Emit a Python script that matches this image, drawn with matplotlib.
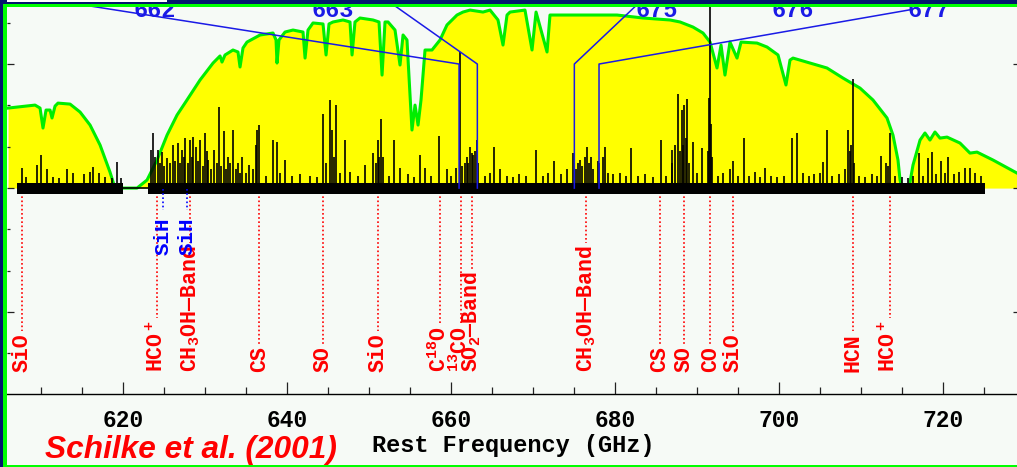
import matplotlib
matplotlib.use('Agg')
import matplotlib.pyplot as plt
from matplotlib.patches import Rectangle
from matplotlib.ticker import MultipleLocator
import numpy as np

plt.rcParams['font.family'] = ['Liberation Mono', 'DejaVu Sans Mono']
plt.rcParams['mathtext.fontset'] = 'custom'
plt.rcParams['mathtext.rm'] = 'Liberation Mono'

# atmospheric transmission, already scaled to the plot's intensity units
atm = [
    (605.98, 0.645), (609.27, 0.669), (609.88, 0.645), (610.24, 0.484), (610.61, 0.629),
    (611.10, 0.629), (611.34, 0.565), (611.71, 0.661), (612.07, 0.685), (613.54, 0.677),
    (614.76, 0.613), (615.98, 0.508), (617.20, 0.347), (618.41, 0.129), (619.02, 0.0),
    (621.71, 0.0), (622.93, 0.065), (624.15, 0.226), (625.37, 0.427), (626.59, 0.589),
    (627.80, 0.710), (629.39, 0.871), (630.98, 1.008), (631.83, 1.065), (632.07, 1.016),
    (632.44, 1.073), (633.41, 1.113), (634.02, 1.097), (634.27, 0.976), (634.63, 1.129),
    (635.12, 1.177), (636.71, 1.234), (638.29, 1.250), (638.66, 1.194), (638.78, 1.008),
    (639.02, 1.194), (639.76, 1.258), (640.73, 1.274), (641.95, 1.258), (642.20, 1.048),
    (642.56, 1.274), (643.17, 1.331), (644.39, 1.323), (644.76, 1.073), (645.12, 1.323),
    (645.61, 1.339), (646.83, 1.355), (647.68, 1.339), (647.93, 1.073), (648.29, 1.339),
    (648.90, 1.371), (650.49, 1.355), (651.22, 1.339), (651.59, 0.911), (651.95, 1.339),
    (652.32, 1.339), (653.17, 1.274), (653.78, 0.992), (654.15, 1.234), (654.63, 1.194),
    (655.00, 0.750), (655.24, 0.468), (655.61, 0.669), (655.98, 0.508), (656.34, 0.710),
    (656.83, 1.113), (657.68, 1.113), (658.66, 1.194), (659.51, 1.315), (660.73, 1.395),
    (661.46, 1.419), (662.32, 1.435), (663.90, 1.419), (664.76, 1.435), (665.73, 1.355),
    (666.34, 1.153), (666.83, 1.395), (667.20, 1.419), (669.02, 1.435), (669.88, 1.113),
    (670.37, 1.419), (671.71, 1.097), (672.07, 1.395), (672.93, 1.395), (678.17, 1.395),
    (680.24, 1.395), (683.41, 1.371), (686.71, 1.355), (687.93, 1.339), (689.51, 1.298),
    (690.73, 1.250), (691.59, 1.177), (692.44, 0.968), (692.93, 1.153), (693.41, 0.911),
    (694.02, 1.177), (694.88, 1.048), (695.37, 1.177), (697.32, 1.169), (698.54, 1.137),
    (699.88, 1.073), (700.85, 0.831), (701.34, 1.032), (701.71, 1.048), (703.78, 1.008),
    (705.85, 0.968), (707.80, 0.887), (709.88, 0.806), (711.46, 0.710), (713.17, 0.565),
    (713.90, 0.427), (714.51, 0.226), (714.76, 0.065), (715.00, 0.0), (715.85, 0.0),
    (716.34, 0.185), (717.20, 0.387), (717.80, 0.444), (718.41, 0.387), (719.02, 0.452),
    (719.63, 0.403), (720.49, 0.411), (722.07, 0.363), (723.29, 0.282), (724.15, 0.290),
    (726.10, 0.226), (729.02, 0.121),
]
atm_freq, atm_level = zip(*atm)

# observed spectral lines: frequency (GHz), peak intensity
lines = [
    (607.65, 0.16), (608.13, 0.09), (609.55, 0.19), (609.96, 0.27), (610.70, 0.15), (611.50, 0.09),
    (612.20, 0.08), (613.13, 0.15), (613.94, 0.12), (615.24, 0.11), (615.98, 0.13), (616.38, 0.17),
    (617.11, 0.12), (617.80, 0.09), (618.66, 0.08), (619.30, 0.21), (619.76, 0.08),
    (623.38, 0.31), (623.66, 0.44), (623.90, 0.25), (624.23, 0.31), (624.50, 0.20), (624.72, 0.29),
    (625.00, 0.18), (625.33, 0.24), (625.70, 0.20), (626.06, 0.35), (626.30, 0.22), (626.67, 0.36),
    (626.90, 0.20), (627.16, 0.31), (627.40, 0.25), (627.56, 0.40), (627.90, 0.20), (628.17, 0.39),
    (628.40, 0.25), (628.57, 0.41), (628.87, 0.33), (629.10, 0.22), (629.39, 0.39), (629.70, 0.18),
    (630.00, 0.44), (630.20, 0.30), (630.40, 0.23), (630.70, 0.15), (631.10, 0.31), (631.40, 0.20),
    (631.71, 0.65), (632.00, 0.18), (632.32, 0.46), (632.60, 0.15), (632.84, 0.25), (633.10, 0.20),
    (633.45, 0.47), (633.80, 0.15), (634.06, 0.20), (634.30, 0.12), (634.55, 0.25), (635.00, 0.12),
    (635.37, 0.19), (635.80, 0.15), (636.18, 0.35), (636.38, 0.47), (636.59, 0.51),
    (637.40, 0.10), (638.33, 0.39), (638.74, 0.37), (639.20, 0.12), (639.76, 0.23), (640.60, 0.10),
    (641.59, 0.11), (642.80, 0.10), (643.60, 0.09), (644.43, 0.60), (644.80, 0.20), (645.24, 0.71),
    (645.45, 0.47), (645.70, 0.25), (645.98, 0.67), (646.50, 0.12), (647.07, 0.39), (647.68, 0.13),
    (648.60, 0.10), (649.51, 0.19), (650.52, 0.28), (650.80, 0.20), (651.06, 0.39), (651.20, 0.25),
    (651.43, 0.56), (651.74, 0.25), (652.40, 0.10), (653.09, 0.39), (653.78, 0.16), (654.76, 0.11),
    (655.50, 0.09), (656.22, 0.27), (656.83, 0.16), (657.60, 0.10), (658.57, 0.42), (659.48, 0.15),
    (660.00, 0.10), (660.61, 0.16), (661.10, 1.10), (661.40, 0.18), (661.71, 0.20), (661.90, 0.25),
    (662.10, 0.20), (662.32, 0.33), (662.50, 0.28), (662.72, 0.27), (662.90, 0.30), (663.13, 0.39),
    (663.30, 0.20), (664.10, 0.10), (664.70, 0.12), (665.28, 0.33), (665.98, 0.15), (666.80, 0.10),
    (667.50, 0.09), (668.30, 0.11), (669.20, 0.10), (670.37, 0.31), (671.20, 0.10), (671.80, 0.12),
    (672.60, 0.22), (673.40, 0.11), (674.20, 0.15), (674.91, 0.28), (675.20, 0.15), (675.50, 0.20),
    (675.73, 0.23), (676.00, 0.18), (676.30, 0.25), (676.55, 0.33), (676.80, 0.20), (677.07, 0.25),
    (677.30, 0.15), (677.89, 0.22), (678.10, 0.20), (678.50, 0.25), (678.78, 0.33), (679.20, 0.12),
    (679.80, 0.11), (680.60, 0.12), (681.30, 0.10), (681.95, 0.32), (682.80, 0.10), (683.66, 0.11),
    (684.60, 0.09), (685.57, 0.39), (686.20, 0.10), (686.91, 0.31), (687.00, 0.20), (687.32, 0.35),
    (687.65, 0.76), (687.90, 0.30), (688.13, 0.63), (688.30, 0.35), (688.45, 0.67), (688.60, 0.40),
    (688.78, 0.72), (689.00, 0.20), (689.55, 0.37), (690.00, 0.12), (690.57, 0.32), (691.30, 0.30),
    (691.46, 0.73), (691.58, 2.00), (691.71, 0.52), (691.85, 0.25), (692.50, 0.10), (693.20, 0.12),
    (694.02, 0.15), (694.43, 0.22), (695.00, 0.10), (695.77, 0.40), (696.40, 0.10), (697.07, 0.13),
    (697.70, 0.09), (698.29, 0.16), (699.00, 0.10), (699.80, 0.09), (700.60, 0.10), (701.55, 0.40),
    (702.23, 0.44), (702.90, 0.12), (703.60, 0.10), (704.30, 0.11), (705.00, 0.12), (705.40, 0.21),
    (705.82, 0.47), (706.50, 0.10), (707.30, 0.11), (708.10, 0.15), (708.45, 0.47), (708.60, 0.30),
    (708.80, 0.35), (708.98, 0.88), (709.20, 0.20), (709.80, 0.10), (710.50, 0.09), (711.30, 0.11),
    (712.00, 0.10), (712.44, 0.26), (713.05, 0.20), (713.30, 0.18), (713.54, 0.44), (714.20, 0.10),
    (715.00, 0.09), (715.70, 0.08), (716.40, 0.10), (717.07, 0.28), (717.60, 0.10), (718.21, 0.24),
    (718.62, 0.29), (719.20, 0.11), (719.72, 0.22), (720.20, 0.12), (720.65, 0.25), (721.30, 0.11),
    (722.00, 0.13), (722.68, 0.16), (723.29, 0.16), (723.90, 0.12), (724.60, 0.10),
]
line_freq, line_peak = zip(*lines)

# observed bands (GHz) and rms noise envelope
band_start = [607.1, 623.0]
band_end = [620.0, 725.1]
noise_hi = 0.04
noise_lo = -0.05

# identified lines
id_names = ['SiO', 'HCO$\\mathregular{^+}$', 'CH$\\mathregular{_3}$OH\u2014Band', 'CS', 'SO', 'SiO',
            'C$\\mathregular{^{18}}$O', '$\\mathregular{^{13}}$CO', 'SO$\\mathregular{_2}$\u2014Band',
            'CH$\\mathregular{_3}$OH\u2014Band', 'CS', 'SO', 'CO', 'SiO', 'HCN', 'HCO$\\mathregular{^+}$']
id_freq = [607.7, 624.2, 628.2, 636.6, 644.4, 651.05, 658.6, 661.2, 662.5,
           676.5, 685.5, 688.4, 691.6, 694.4, 709.0, 713.5]
sih_freq = [624.9, 627.8]

# zoom-panel connectors and their labels
panel_names = ['662', '663', '675', '676', '677']
panel_freq = [623.9, 645.6, 685.1, 701.7, 718.3]
conn_freq = [[611.34, 660.98, 660.98], [652.15, 663.21, 663.21],
             [683.29, 675.04, 675.04], [716.22, 678.05, 678.05]]
conn_level = [[1.516, 1.0, 0.0], [1.516, 1.0, 0.0],
              [1.516, 1.0, 0.0], [1.44, 1.0, 0.0]]

W, H = 1017, 467
navy = '#03166c'
paper = '#f6faf6'
fig = plt.figure(figsize=(W / 100, H / 100), dpi=100, facecolor=navy)
fig.patches.append(Rectangle((3 / W, 0), 1, 463 / H, transform=fig.transFigure,
                             facecolor=paper, edgecolor='none', zorder=-1))

# axes runs past the top and right edges of the picture (cropped figure)
ax = fig.add_axes([7 / W, 73 / H, 1013 / W, 404.4 / H])
ax.set_facecolor(paper)
ax.set_xlim(605.85, 729.39)
ax.set_ylim(-1.66, 1.6)

ax.fill_between(atm_freq, 0, atm_level, color='#ffff00', lw=0, zorder=1)
ax.plot(atm_freq, atm_level, color='#00ee00', lw=2.2, zorder=2)

for s, e in zip(band_start, band_end):
    ax.fill_between([s, e], noise_lo, noise_hi, color='k', lw=0, zorder=3)
ax.plot([band_end[0], band_start[1]], [0, 0], color='k', lw=1.2, zorder=3)
ax.vlines(line_freq, 0, line_peak, color='k', lw=1.2, zorder=3)

for fx, fy in zip(conn_freq, conn_level):
    ax.plot(fx, fy, color='#1a1ae6', lw=1.1, zorder=4)
for name, f in zip(panel_names, panel_freq):
    ax.text(f, 1.38, name, color='#1a1ae6', fontsize=17, fontweight='bold',
            ha='center', va='baseline', zorder=4)

labels = []
for name, f in zip(id_names, id_freq):
    t = ax.text(f, -1.484, name, color='#ff0000', fontsize=15.5, fontweight='bold',
                rotation=90, ha='center', va='bottom', zorder=3)
    labels.append(t)
for f in sih_freq:
    ax.text(f, -0.234, 'SiH', color='#0000ff', fontsize=15, fontweight='bold',
            rotation=90, ha='center', va='top', zorder=3)
    ax.plot([f, f], [-0.01, -0.177], color='#0000ff', lw=1.2, ls=(0, (1, 1.5)), zorder=3)

ax.xaxis.set_major_locator(MultipleLocator(20))
ax.xaxis.set_minor_locator(MultipleLocator(5))
ax.yaxis.set_major_locator(MultipleLocator(1))
ax.yaxis.set_minor_locator(MultipleLocator(1 / 3))
ax.tick_params(which='both', direction='in', top=False, right=True, left=True,
               labelleft=False, color='#222222', width=0.9)
ax.tick_params(axis='x', which='major', length=8.5, pad=11, labelsize=16.5)
ax.tick_params(axis='x', which='minor', length=5)
ax.tick_params(axis='y', which='major', length=5)
ax.tick_params(axis='y', which='minor', length=2)
for lab in ax.get_xticklabels():
    lab.set_fontweight('bold')
ax.set_xlabel('Rest Frequency (GHz)', fontsize=17, fontweight='bold', labelpad=1)
ax.spines['left'].set_visible(False)
ax.spines['bottom'].set_linewidth(1.0)

fig.canvas.draw()
renderer = fig.canvas.get_renderer()
inv = ax.transData.inverted()
for t, f in zip(labels, id_freq):
    top = inv.transform((0, t.get_window_extent(renderer).y1))[1]
    ax.plot([f, f], [0, top + 0.02], color='#ff0000', lw=1.2, ls=(0, (1, 1.5)), zorder=2.5)

fig.text(45 / W, 9 / H, 'Schilke et al. (2001)', color='#ff0000', fontsize=22.8,
         fontweight='bold', fontstyle='italic', family='Liberation Sans', va='baseline')

# slide border drawn over everything
for x, y, w, h, c in [(0, 463 / H, 1, 4 / H, navy), (0, 460 / H, 1, 3 / H, '#00ff00'),
                      (0, 0, 3 / W, 1, navy), (3 / W, 0, 4 / W, 463 / H, '#00ff00'),
                      (3 / W, 0, 1, 2 / H, '#00ff00'), (7 / W, 465.3 / H, 160 / W, 1.7 / H, 'white')]:
    fig.patches.append(Rectangle((x, y), w, h, transform=fig.transFigure,
                                 facecolor=c, edgecolor='none', zorder=10))

fig.savefig('out.png', dpi=100, facecolor=navy)
